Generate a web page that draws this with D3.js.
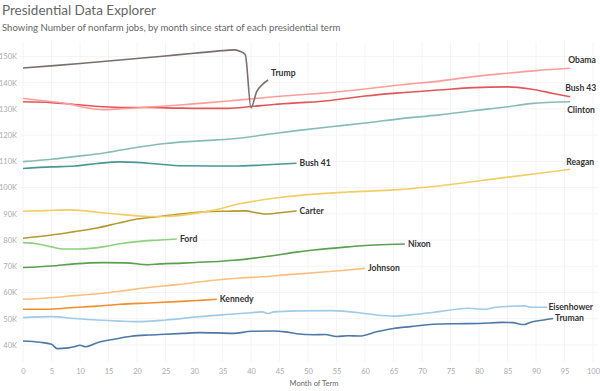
<!DOCTYPE html>
<html>
<head>
<meta charset="utf-8">
<script src="https://cdn.jsdelivr.net/npm/d3@7"></script>
<style>
  body { margin: 0; background: #fff; }
  text { font-family: Lato, "Open Sans", sans-serif; }
  .grid line { stroke: #f4f4f4; stroke-width: 1; }
  .line { fill: none; stroke-width: 1.6; stroke-linejoin: round; }
  .label { font-size: 8.6px; font-weight: 700; fill: #333; }
  .tick text { font-size: 7.5px; fill: #aaa; }
</style>
</head>
<body>
<div id="chart"></div>
<script>

WIDTH = 600;
HEIGHT = 391;

// nonfarm jobs in K, [month of term, value]

var truman = [[0,41.5],[3,41.0],[5,40.3],[6,38.6],[8,38.9],[9,39.3],[10,39.9],[11,39.3],[13,40.8],[16,42.2],
  [19,43.3],[22,43.8],[25,44.1],[28,44.4],[31,44.7],[34,44.6],[37,44.4],[40,45.2],[44,45.3],[46,45.0],
  [48,44.3],[51,43.9],[53,44.0],[55,43.2],[57,43.5],[59,43.4],[62,45.0],[65,46.3],[68,47.0],[72,47.9],
  [76,48.1],[80,48.2],[84,48.6],[86,48.5],[87,48.0],[88,47.8],[89,48.6],[91,49.4],[93,50.1]];
var eisenhower = [[0,50.4],[5,50.8],[9,50.1],[13,49.5],[17,49.1],[20,48.9],[25,49.5],[31,50.8],[37,51.8],
  [40,52.3],[42,52.6],[43,52.0],[44,52.6],[48,53.0],[54,53.1],[59,52.3],[62,51.4],[65,51.0],[69,51.7],
  [73,52.7],[78,54.0],[81,53.6],[83,54.4],[88,54.9],[89,54.4],[92,54.4]];
var kennedy = [[0,53.6],[4,53.6],[9,54.3],[13,54.8],[17,55.5],[22,56.0],[27,56.5],[31,57.0],[34,57.4]];
var johnson = [[0,57.4],[5,58.0],[9,58.8],[14,59.7],[17,60.5],[22,61.9],[27,63.0],[33,64.6],[38,65.5],
  [42,66.0],[46,66.7],[51,67.5],[56,68.4],[60,69.2]];
var nixon = [[0,69.5],[5,70.1],[9,70.9],[14,71.4],[18,71.3],[22,70.6],[24,70.9],[28,71.2],[33,71.7],
  [37,72.3],[43,73.8],[48,75.4],[51,76.2],[57,77.4],[60,77.9],[64,78.3],[67,78.5]];
var ford = [[0,79.0],[2,78.7],[5,77.4],[7,76.6],[10,76.6],[14,77.4],[17,78.6],[20,79.4],[24,80.0],[27,80.4]];
var carter = [[0,80.7],[5,81.9],[9,83.2],[13,84.6],[17,86.6],[20,88.0],[24,89.0],[28,90.0],[32,90.8],
  [36,91.0],[39,91.1],[41,90.4],[43,89.9],[45,90.4],[48,91.1]];
var reagan = [[0,91.0],[4,91.2],[8,91.5],[11,91.1],[14,90.4],[18,89.6],[22,89.0],[25,89.0],[28,89.5],
  [33,91.2],[38,93.8],[45,96.2],[51,97.5],[57,98.3],[66,99.2],[75,101.2],[83,103.4],[90,105.3],[96,107.0]];
var bush41 = [[0,107.3],[5,107.9],[9,108.2],[13,109.2],[17,109.8],[20,109.6],[23,109.1],[28,108.3],
  [33,108.2],[37,108.2],[42,108.6],[48,109.3]];
var clinton = [[0,109.9],[5,110.8],[9,111.8],[14,113.1],[19,115.0],[25,116.8],[31,117.8],[37,118.6],
  [43,120.3],[48,121.7],[54,123.2],[60,124.6],[66,126.2],[73,127.7],[79,129.3],[85,130.8],[89,132.0],[96,132.7]];
var bush43 = [[0,132.7],[5,132.4],[9,131.7],[14,130.8],[18,130.5],[22,130.5],[27,130.3],[31,130.2],
  [36,130.2],[40,130.9],[44,131.7],[48,132.3],[52,132.8],[60,134.9],[66,136.1],[73,137.2],[79,138.1],
  [85,138.4],[89,137.6],[93,135.9],[96,134.6]];
var obama = [[0,134.0],[4,133.0],[8,131.9],[11,130.5],[14,129.7],[17,130.0],[22,130.7],[27,131.4],
  [31,132.1],[36,133.0],[40,133.8],[44,134.6],[48,135.3],[52,135.9],[60,137.6],[66,139.1],[73,140.6],
  [79,142.3],[85,143.6],[90,144.6],[96,145.5]];
var trump = [[0,145.6],[6,146.6],[12,147.7],[18,148.8],[24,150.0],[30,151.2],[35,152.2],[37,152.5],
  [38,152.0],[39,150.6],[40,130.4],[41,136.6],[42,139.3],[43,141.0]];

var presidents = ["Truman", "Eisenhower", "Kennedy", "Johnson", "Nixon", "Ford", "Carter",
                  "Reagan", "Bush 41", "Clinton", "Bush 43", "Obama", "Trump"];
var series = [truman, eisenhower, kennedy, johnson, nixon, ford, carter,
              reagan, bush41, clinton, bush43, obama, trump];

var x_ticks = d3.range(0, 101, 5);
var y_ticks = d3.range(40, 151, 10);

// tableau 20, one colour per term in order
var colours = ["#4e79a7", "#a0cbe8", "#f28e2b", "#ffbe7d", "#59a14f", "#8cd17d", "#b6992d",
               "#f1ce63", "#499894", "#86bcb6", "#e15759", "#ff9d9a", "#79706e"];

// nudges for the end labels, where they don't sit right after the line
var label_nudge = {
    "Obama": [-5, -8], "Bush 43": [-8, -9], "Clinton": [-6, 8], "Reagan": [-7, -7],
    "Eisenhower": [-2, 0], "Truman": [-1, 0], "Trump": [0, -7]
};


var svg = d3.select("#chart").append("svg")
    .attr("width", WIDTH)
    .attr("height", HEIGHT);

svg.append("text")
    .attr("x", 2).attr("y", 15)
    .style("font-size", "13.5px").style("fill", "#666")
    .text("Presidential Data Explorer");

svg.append("text")
    .attr("x", 2).attr("y", 31)
    .style("font-size", "9.6px").style("fill", "#666")
    .text("Showing Number of nonfarm jobs, by month since start of each presidential term");

var x = d3.scaleLinear().domain([0, 100]).range([23, 593]);
var y = d3.scaleLinear().domain([33.5, 155.5]).range([362, 42]);

var grid = svg.append("g").attr("class", "grid");
grid.selectAll("line.v")
    .data(x_ticks).enter()
    .append("line")
    .attr("x1", function(d) { return x(d) }).attr("x2", function(d) { return x(d) })
    .attr("y1", 42).attr("y2", 362);
grid.selectAll("line.h")
    .data(y_ticks).enter()
    .append("line")
    .attr("x1", 20).attr("x2", 598)
    .attr("y1", function(d) { return y(d) }).attr("y2", function(d) { return y(d) });

var xAxis = svg.append("g")
    .attr("transform", "translate(0,362)")
    .call(d3.axisBottom(x).tickValues(x_ticks).tickSize(0).tickPadding(7));
xAxis.select(".domain").remove();

var yAxis = svg.append("g")
    .attr("transform", "translate(17,0)")
    .call(d3.axisLeft(y).tickValues(y_ticks).tickSize(0).tickPadding(0)
          .tickFormat(function(d) { return d + "K" }));
yAxis.select(".domain").remove();

svg.append("text")
    .attr("x", 314).attr("y", 386)
    .attr("text-anchor", "middle")
    .style("font-size", "7.5px").style("fill", "#666")
    .text("Month of Term");

var line = d3.line()
    .x(function(d) { return x(d[0]) })
    .y(function(d) { return y(d[1]) })
    .curve(d3.curveMonotoneX);

var terms = presidents.map(function(name, i) {
    return { name: name, values: series[i], colour: colours[i] };
});

svg.append("g")
    .selectAll("path")
    .data(terms).enter()
    .append("path")
    .attr("class", "line")
    .attr("stroke", function(d) { return d.colour })
    .attr("d", function(d) { return line(d.values) });

svg.append("g")
    .selectAll("text")
    .data(terms).enter()
    .append("text")
    .attr("class", "label")
    .attr("dy", "0.35em")
    .attr("x", function(d) {
        var last = d.values[d.values.length - 1];
        var n = label_nudge[d.name] || [0, 0];
        return x(last[0]) + 3 + n[0];
    })
    .attr("y", function(d) {
        var last = d.values[d.values.length - 1];
        var n = label_nudge[d.name] || [0, 0];
        return y(last[1]) + n[1];
    })
    .text(function(d) { return d.name });

</script>
</body>
</html>
